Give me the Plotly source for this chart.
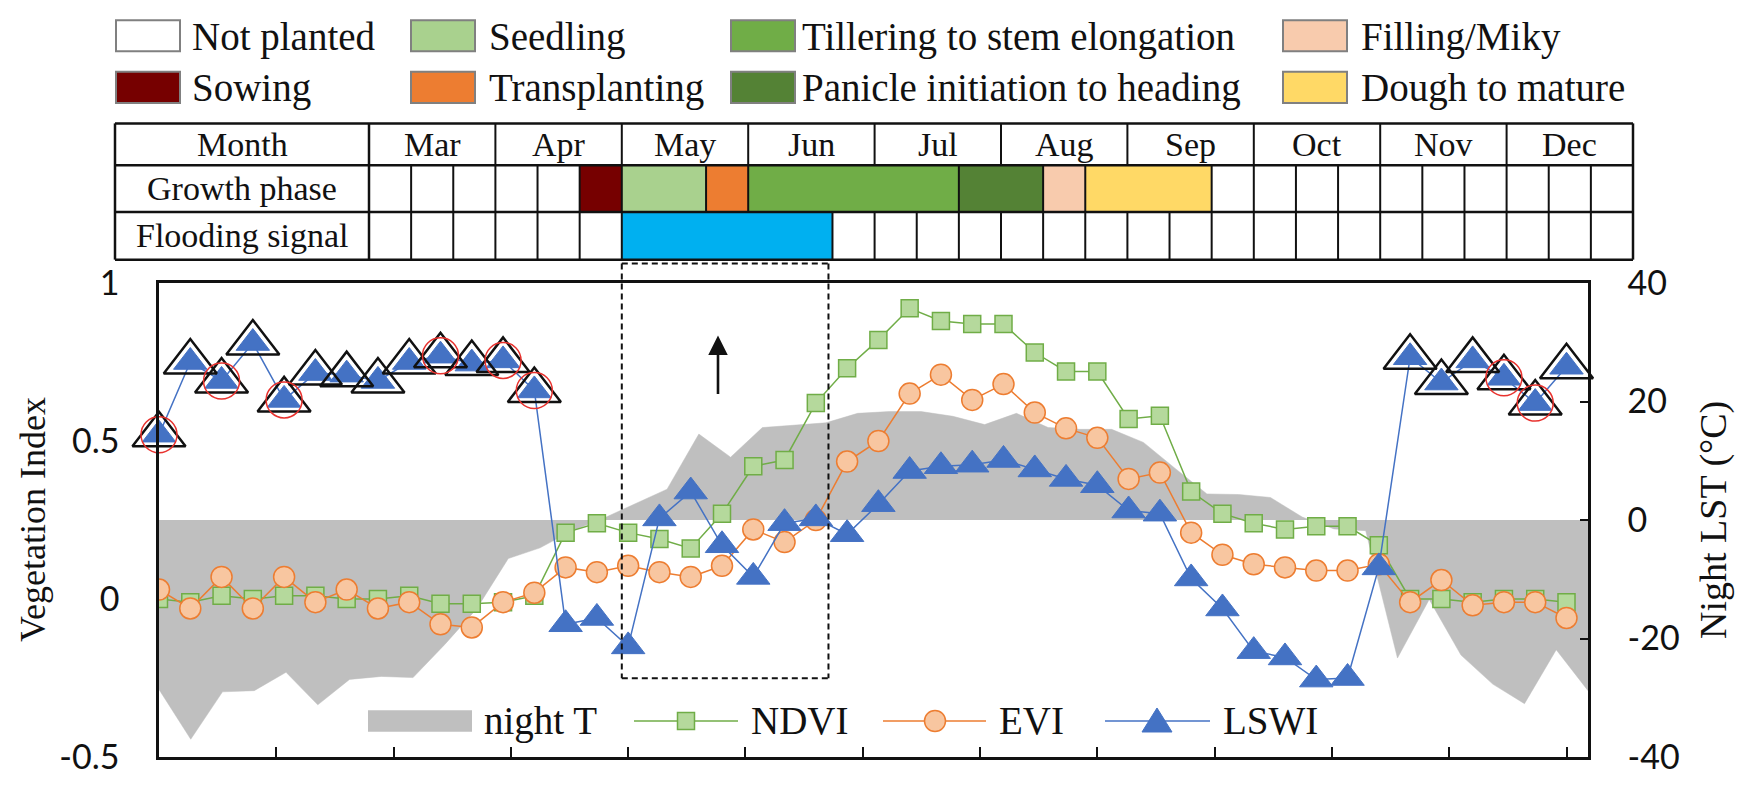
import plotly.graph_objects as go

# ---------------------------------------------------------------- data
# 8-day composites (day of year)
doy = [1, 9, 17, 25, 33, 41, 49, 57, 65, 73, 81, 89, 97, 105, 113, 121, 129, 137,
       145, 153, 161, 169, 177, 185, 193, 201, 209, 217, 225, 233, 241, 249, 257,
       265, 273, 281, 289, 297, 305, 313, 321, 329, 337, 345, 353, 361]

ndvi = [0.00, -0.01, 0.01, 0.00, 0.01, 0.01, 0.00, 0.00, 0.01, -0.015, -0.015, -0.01, 0.01,
        0.21, 0.24, 0.21, 0.19, 0.16, 0.27, 0.42, 0.44,
        0.62, 0.73, 0.82, 0.92, 0.88, 0.87, 0.87, 0.78, 0.72, 0.72, 0.57, 0.58,
        0.34, 0.27, 0.24, 0.22, 0.23, 0.23, 0.17, 0.00, 0.00, -0.01, 0.00, 0.00, -0.01]

evi = [0.03, -0.03, 0.07, -0.03, 0.07, -0.01, 0.03, -0.03, -0.01, -0.08, -0.09, -0.01, 0.02,
       0.10, 0.085, 0.105, 0.085, 0.07, 0.105, 0.22, 0.18,
       0.25, 0.435, 0.50, 0.65, 0.71, 0.63, 0.68, 0.59, 0.54, 0.51, 0.38, 0.40,
       0.21, 0.14, 0.11, 0.10, 0.09, 0.09, 0.11, -0.01, 0.06, -0.02, -0.01, -0.01, -0.06]

lswi = [0.52, 0.75, 0.69, 0.81, 0.63, 0.715, 0.71, 0.69, 0.75, 0.77, 0.745, 0.755, 0.66,
        -0.08, -0.06, -0.15, 0.255, 0.34, 0.17, 0.07, 0.24,
        0.255, 0.205, 0.30, 0.405, 0.42, 0.425, 0.44, 0.41, 0.38, 0.36, 0.28, 0.27,
        0.065, -0.03, -0.165, -0.185, -0.255, -0.25, 0.10, 0.765, 0.685, 0.755, 0.70, 0.62, 0.735]

# night land surface temperature (deg C), one value per composite period
night_t = [-28.6, -37.0, -29.0, -28.8, -25.7, -31.2, -26.9, -26.4, -26.6, -21.0,
           -15.0, -6.5, -4.7, -1.8, 0.3, 2.7, 5.2, 14.5, 10.6, 15.6,
           16.0, 16.4, 18.0, 18.3, 18.3, 17.5, 16.1, 18.0, 15.6, 15.3,
           15.3, 13.1, 8.7, 4.4, 4.3, 3.8, 0.5, -1.5, -1.8, -23.3,
           -13.4, -22.8, -27.7, -31.0, -21.9, -28.8]
t_period = list(range(len(night_t)))

# composites flagged on the LSWI series
winter_idx = [0, 1, 2, 3, 4, 5, 6, 7, 8, 9, 10, 11, 12, 40, 41, 42, 43, 44, 45]
outlier_idx = [0, 2, 4, 9, 11, 12, 43, 44]

vi_ticks = [-0.5, 0, 0.5, 1]
vi_labels = ["-0.5", "0", "0.5", "1"]
t_ticks = [-40, -20, 0, 20, 40]
t_labels = ["-40", "-20", "0", "20", "40"]
month_ticks = [1, 31, 61, 91, 121, 151, 181, 211, 241, 271, 301, 331, 361]

# crop calendar (dekads counted from 1 March)
months = ["Mar", "Apr", "May", "Jun", "Jul", "Aug", "Sep", "Oct", "Nov", "Dec"]
row_names = ["Month", "Growth phase", "Flooding signal"]
phase_names = ["Sowing", "Seedling", "Transplanting", "Tillering to stem elongation",
               "Panicle initiation to heading", "Filling/Miky", "Dough to mature"]
phase_start = [5, 6, 8, 9, 14, 16, 17]
phase_end = [6, 8, 9, 14, 16, 17, 20]
flood_start, flood_end = 6, 11

# ---------------------------------------------------------------- styles
PHASE_COLORS = {
    "Not planted": "#ffffff",
    "Sowing": "#760000",
    "Seedling": "#a9d18e",
    "Transplanting": "#ed7d31",
    "Tillering to stem elongation": "#70ad47",
    "Panicle initiation to heading": "#548235",
    "Filling/Miky": "#f8cbad",
    "Dough to mature": "#ffd966",
}
FLOOD_COLOR = "#00b0f0"
GREEN, GREEN_FILL = "#70ad47", "#b5d99c"
ORANGE, ORANGE_FILL = "#ed7d31", "#f8c6a0"
BLUE = "#4472c4"
GRAY = "#bfbfbf"
SERIF = "Liberation Serif"
SANS = "Lato"
INK = "#111111"

W, H = 1739, 788
L, R, T, B = 159, 1588, 283, 770   # plot area in page pixels


def fx(x):
    return (x - L) / (R - L)


def fy(y):
    return (B - y) / (B - T)


shapes = []
annos = []

# ---------------------------------------------------------------- calendar table
TL, TH, TR = 115, 369, 1633
ROWS = [119, 162, 210, 259]
dek = (TR - TH) / 30.0


def dx(k):
    return TH + k * dek


def rect(x0, y0, x1, y1, fill, line_w=0, line_c=INK):
    shapes.append(dict(type="rect", xref="paper", yref="paper",
                       x0=fx(x0), x1=fx(x1), y0=fy(y1), y1=fy(y0),
                       fillcolor=fill, line=dict(width=line_w, color=line_c), layer="above"))


def seg(x0, y0, x1, y1, w=2, color=INK, dash=None):
    ln = dict(width=w, color=color)
    if dash:
        ln["dash"] = dash
    shapes.append(dict(type="line", xref="paper", yref="paper",
                       x0=fx(x0), x1=fx(x1), y0=fy(y0), y1=fy(y1), line=ln, layer="above"))


for name, s, e in zip(phase_names, phase_start, phase_end):
    rect(dx(s), ROWS[1], dx(e), ROWS[2], PHASE_COLORS[name])
rect(dx(flood_start), ROWS[2], dx(flood_end), ROWS[3], FLOOD_COLOR)

for y in ROWS:
    seg(TL, y, TR, y, w=2.5)
for x in (TL, TH, TR):
    seg(x, ROWS[0], x, ROWS[3], w=2.5)
for m in range(1, len(months)):
    seg(dx(3 * m), ROWS[0], dx(3 * m), ROWS[1], w=2)
for k in range(1, 30):
    inside_phase = any(s < k < e for s, e in zip(phase_start, phase_end))
    if not inside_phase:
        seg(dx(k), ROWS[1], dx(k), ROWS[2], w=2)
    if not (flood_start < k < flood_end):
        seg(dx(k), ROWS[2], dx(k), ROWS[3], w=2)

TABLE_FONT = dict(family=SERIF, size=34, color=INK)
for i, name in enumerate(row_names):
    annos.append(dict(xref="paper", yref="paper", x=fx((TL + TH) / 2),
                      y=fy((ROWS[i] + ROWS[i + 1]) / 2), text=name, showarrow=False,
                      font=TABLE_FONT, xanchor="center", yanchor="middle"))
for m, name in enumerate(months):
    annos.append(dict(xref="paper", yref="paper", x=fx((dx(3 * m) + dx(3 * m + 3)) / 2),
                      y=fy((ROWS[0] + ROWS[1]) / 2), text=name, showarrow=False,
                      font=TABLE_FONT, xanchor="center", yanchor="middle"))

# ---------------------------------------------------------------- phase key
key_items = ["Not planted", "Sowing", "Seedling", "Transplanting",
             "Tillering to stem elongation", "Panicle initiation to heading",
             "Filling/Miky", "Dough to mature"]
KEY_BOX_X = [116, 411, 731, 1283]
KEY_TEXT_X = [190, 487, 800, 1359]
KEY_ROW_Y = [29, 82]
for n, name in enumerate(key_items):
    col, row = divmod(n, 2)
    bx, cy = KEY_BOX_X[col], KEY_ROW_Y[row]
    rect(bx, cy - 16, bx + 64, cy + 16, PHASE_COLORS[name], line_w=2, line_c="#808080")
    annos.append(dict(xref="paper", yref="paper", x=fx(KEY_TEXT_X[col]), y=fy(cy + 1),
                      text=name, showarrow=False,
                      font=dict(family=SERIF, size=39, color=INK),
                      xanchor="left", yanchor="middle"))

# ---------------------------------------------------------------- flooding window + arrow
BOX_L, BOX_R, BOX_T, BOX_B = dx(flood_start), dx(flood_end) - 4, 263, 689
for (x0, y0, x1, y1) in [(BOX_L, BOX_T, BOX_R, BOX_T), (BOX_L, BOX_B, BOX_R, BOX_B),
                         (BOX_L, BOX_T, BOX_L, BOX_B), (BOX_R, BOX_T, BOX_R, BOX_B)]:
    seg(x0, y0, x1, y1, w=2, dash="6px,4px")

annos.append(dict(xref="paper", yref="paper", x=fx(718), y=fy(337), ax=0, ay=60,
                  text="", showarrow=True, arrowhead=2, arrowsize=1.5,
                  arrowwidth=2.6, arrowcolor=INK))

# ---------------------------------------------------------------- series key (inside plot)
LEG_Y = 733
LEG_FONT = dict(family=SERIF, size=39, color=INK)
rect(368, 722, 472, 744, GRAY)
annos.append(dict(xref="paper", yref="paper", x=fx(482), y=fy(LEG_Y), text="night T",
                  showarrow=False, font=LEG_FONT, xanchor="left", yanchor="middle"))

for x0, x1, color, label in [(634, 738, GREEN, "NDVI"), (883, 986, ORANGE, "EVI"),
                             (1105, 1210, BLUE, "LSWI")]:
    seg(x0, LEG_Y, x1, LEG_Y, w=1.5, color=color)
    annos.append(dict(xref="paper", yref="paper", x=fx(x1 + 11), y=fy(LEG_Y), text=label,
                      showarrow=False, font=LEG_FONT, xanchor="left", yanchor="middle"))

shapes.append(dict(type="rect", xref="paper", yref="paper", xsizemode="pixel", ysizemode="pixel",
                   xanchor=fx(686), yanchor=fy(LEG_Y), x0=-8.5, x1=8.5, y0=-8.5, y1=8.5,
                   fillcolor=GREEN_FILL, line=dict(color=GREEN, width=1.5), layer="above"))
shapes.append(dict(type="circle", xref="paper", yref="paper", xsizemode="pixel", ysizemode="pixel",
                   xanchor=fx(935), yanchor=fy(LEG_Y), x0=-10.5, x1=10.5, y0=-10.5, y1=10.5,
                   fillcolor=ORANGE_FILL, line=dict(color=ORANGE, width=1.5), layer="above"))
shapes.append(dict(type="path", xref="paper", yref="paper", xsizemode="pixel", ysizemode="pixel",
                   xanchor=fx(1157), yanchor=fy(LEG_Y), path="M -15,-11 L 15,-11 L 0,13 Z",
                   fillcolor=BLUE, line=dict(color=BLUE, width=1), layer="above"))

# ---------------------------------------------------------------- axis titles
annos.append(dict(xref="paper", yref="paper", x=fx(33), y=0.5, text="Vegetation Index",
                  textangle=-90, showarrow=False, font=dict(family=SERIF, size=36, color=INK),
                  xanchor="center", yanchor="middle"))
annos.append(dict(xref="paper", yref="paper", x=fx(1713), y=0.5, text="Night LST (\u00b0C)",
                  textangle=-90, showarrow=False, font=dict(family=SERIF, size=38, color=INK),
                  xanchor="center", yanchor="middle"))

# ---------------------------------------------------------------- traces
fig = go.Figure()

# temperature area on its own period axis (drawn underneath)
fig.add_trace(go.Scatter(x=t_period, y=night_t, mode="lines", fill="tozeroy",
                         fillcolor=GRAY, line=dict(color=GRAY, width=0.5),
                         xaxis="x", yaxis="y", showlegend=False, hoverinfo="skip"))

fig.add_trace(go.Scatter(x=doy, y=ndvi, mode="lines+markers", name="NDVI",
                         line=dict(color=GREEN, width=1.5),
                         marker=dict(symbol="square", size=17, color=GREEN_FILL,
                                     line=dict(color=GREEN, width=1.5)),
                         xaxis="x2", yaxis="y2", showlegend=False))
fig.add_trace(go.Scatter(x=doy, y=evi, mode="lines+markers", name="EVI",
                         line=dict(color=ORANGE, width=1.5),
                         marker=dict(symbol="circle", size=21, color=ORANGE_FILL,
                                     line=dict(color=ORANGE, width=1.5)),
                         xaxis="x2", yaxis="y2", showlegend=False))
fig.add_trace(go.Scatter(x=doy, y=lswi, mode="lines+markers", name="LSWI",
                         line=dict(color=BLUE, width=1.5),
                         marker=dict(symbol="triangle-up", size=29, color=BLUE,
                                     line=dict(color=BLUE, width=1)),
                         xaxis="x2", yaxis="y2", showlegend=False, cliponaxis=False))
fig.add_trace(go.Scatter(x=[doy[i] for i in winter_idx], y=[lswi[i] for i in winter_idx],
                         mode="markers",
                         marker=dict(symbol="triangle-up-open", size=46, color=INK,
                                     line=dict(color=INK, width=2.5)),
                         xaxis="x2", yaxis="y2", showlegend=False, cliponaxis=False))
fig.add_trace(go.Scatter(x=[doy[i] for i in outlier_idx], y=[lswi[i] for i in outlier_idx],
                         mode="markers",
                         marker=dict(symbol="circle-open", size=36, color="#e8322e",
                                     line=dict(color="#e8322e", width=1.5)),
                         xaxis="x2", yaxis="y2", showlegend=False, cliponaxis=False))

axis_line = dict(showline=True, linecolor=INK, linewidth=2.5, showgrid=False, zeroline=False)

fig.update_layout(
    width=W, height=H, autosize=False,
    margin=dict(l=L, r=W - R, t=T, b=H - B, pad=0),
    paper_bgcolor="white", plot_bgcolor="white",
    showlegend=False,
    xaxis=dict(range=[0, len(night_t) - 1], visible=False, domain=[0, 1]),
    yaxis=dict(range=[-40, 40], side="right", anchor="x", tickvals=t_ticks, ticktext=t_labels,
               ticks="inside", ticklen=8, tickwidth=2, tickcolor=INK, ticklabelstandoff=30,
               ticklabeloverflow="allow",
               tickfont=dict(family=SANS, size=34, color=INK), **axis_line),
    xaxis2=dict(range=[1, 366.5], overlaying="x", anchor="y2", side="bottom",
                tickvals=month_ticks, showticklabels=False, ticks="inside", ticklen=10,
                tickwidth=2, tickcolor=INK, mirror=True, **axis_line),
    yaxis2=dict(range=[-0.5, 1], overlaying="y", side="left", anchor="x2",
                tickvals=vi_ticks, ticktext=vi_labels, ticks="", ticklabelstandoff=30,
                ticklabeloverflow="allow",
                tickfont=dict(family=SANS, size=34, color=INK), **axis_line),
    shapes=shapes,
    annotations=annos,
)

fig.write_html("out.html")
